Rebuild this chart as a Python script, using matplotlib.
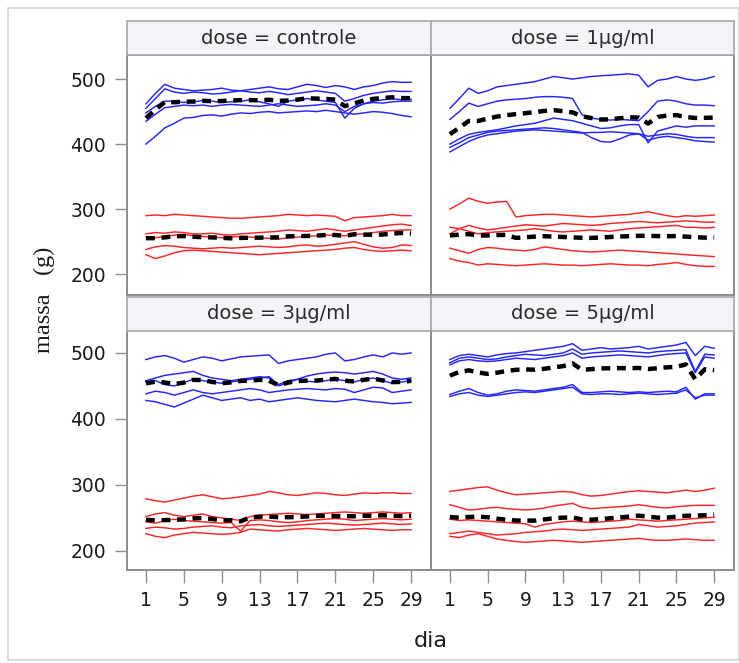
import numpy as np
import matplotlib
matplotlib.use("Agg")
import matplotlib.pyplot as plt
from matplotlib.patches import Rectangle

# === Data: daily body mass (g) per animal, days 1..29 ===
dias = list(range(1, 30))
doses = ["controle", "1µg/ml", "3µg/ml", "5µg/ml"]

# controle
c_b1 = [462, 478, 492, 486, 484, 482, 483, 484, 486, 483, 482, 484, 486, 488, 485, 484, 488, 492, 490, 487, 490, 488, 484, 488, 490, 494, 496, 495, 495]
c_b2 = [455, 470, 485, 480, 478, 480, 479, 477, 478, 480, 482, 480, 479, 481, 479, 476, 478, 480, 482, 480, 478, 466, 470, 475, 478, 480, 482, 481, 481]
c_b3 = [448, 458, 466, 466, 464, 465, 467, 466, 464, 465, 466, 468, 465, 462, 458, 466, 468, 470, 468, 466, 464, 440, 455, 462, 466, 468, 470, 468, 469]
c_b4 = [435, 446, 456, 458, 460, 459, 460, 458, 460, 461, 460, 459, 458, 460, 462, 460, 458, 459, 460, 462, 460, 450, 458, 462, 464, 463, 465, 466, 466]
c_b5 = [400, 412, 425, 432, 440, 441, 444, 445, 443, 446, 448, 447, 449, 450, 448, 449, 450, 451, 450, 452, 450, 448, 446, 448, 450, 449, 447, 444, 442]
c_r1 = [290, 291, 290, 292, 291, 290, 289, 288, 287, 286, 286, 287, 288, 289, 290, 292, 291, 290, 291, 290, 289, 282, 287, 288, 289, 290, 292, 290, 290]
c_r2 = [262, 264, 263, 265, 264, 262, 262, 263, 261, 260, 262, 263, 264, 265, 266, 268, 267, 266, 268, 270, 268, 266, 268, 270, 272, 274, 276, 277, 275]
c_r3 = [257, 256, 258, 260, 261, 259, 258, 257, 256, 257, 258, 257, 256, 255, 254, 256, 257, 258, 259, 260, 260, 259, 261, 262, 264, 266, 267, 268, 268]
c_r4 = [238, 242, 244, 243, 241, 240, 239, 240, 241, 240, 241, 242, 243, 242, 241, 242, 244, 245, 243, 244, 246, 248, 250, 246, 242, 240, 241, 245, 244]
c_r5 = [230, 224, 228, 233, 236, 237, 236, 235, 234, 233, 232, 231, 230, 231, 232, 233, 234, 235, 236, 237, 238, 240, 241, 238, 236, 235, 236, 237, 236]

# 1 ug/ml
d1_b1 = [455, 470, 486, 478, 482, 488, 490, 492, 494, 496, 500, 504, 502, 500, 502, 504, 505, 506, 507, 508, 506, 488, 498, 500, 504, 500, 498, 500, 504]
d1_b2 = [438, 450, 463, 458, 462, 466, 468, 469, 470, 472, 473, 473, 472, 470, 445, 440, 438, 437, 438, 437, 436, 450, 466, 468, 466, 462, 460, 460, 459]
d1_b3 = [400, 408, 415, 418, 420, 422, 425, 428, 430, 432, 436, 440, 438, 436, 432, 428, 424, 425, 428, 430, 430, 402, 420, 424, 428, 426, 428, 428, 428]
d1_b4 = [395, 402, 410, 414, 418, 420, 421, 422, 423, 424, 425, 424, 422, 420, 418, 410, 404, 403, 408, 414, 416, 412, 414, 416, 415, 412, 410, 410, 410]
d1_b5 = [388, 396, 404, 410, 414, 416, 418, 420, 421, 422, 421, 420, 419, 418, 417, 418, 418, 419, 418, 417, 416, 406, 410, 412, 410, 408, 405, 404, 403]
d1_r1 = [300, 308, 317, 312, 309, 311, 312, 288, 290, 291, 292, 292, 291, 290, 289, 288, 289, 290, 291, 292, 294, 296, 293, 290, 288, 290, 289, 290, 291]
d1_r2 = [272, 270, 275, 271, 268, 270, 272, 274, 276, 275, 274, 276, 278, 277, 276, 275, 276, 278, 279, 280, 281, 280, 279, 280, 281, 282, 281, 280, 280]
d1_r3 = [262, 270, 266, 262, 264, 265, 266, 267, 268, 270, 268, 266, 265, 266, 267, 268, 267, 266, 268, 270, 271, 272, 273, 274, 275, 272, 272, 271, 272]
d1_r4 = [240, 236, 232, 238, 241, 240, 238, 237, 236, 238, 242, 240, 238, 236, 235, 234, 235, 236, 237, 236, 235, 234, 233, 232, 231, 230, 229, 228, 227]
d1_r5 = [224, 220, 218, 214, 216, 215, 214, 213, 214, 215, 216, 215, 214, 214, 213, 214, 215, 216, 215, 214, 214, 213, 215, 216, 218, 215, 213, 212, 212]

# 3 ug/ml
d3_b1 = [490, 494, 496, 492, 486, 490, 494, 492, 488, 491, 494, 495, 496, 497, 484, 488, 490, 492, 494, 498, 500, 488, 490, 494, 497, 494, 500, 498, 500]
d3_b2 = [458, 462, 466, 468, 470, 472, 466, 462, 460, 458, 460, 462, 464, 462, 450, 455, 460, 465, 468, 470, 471, 470, 468, 470, 472, 468, 462, 460, 462]
d3_b3 = [456, 458, 452, 450, 455, 460, 458, 456, 454, 456, 458, 460, 462, 464, 452, 458, 460, 457, 456, 458, 460, 458, 456, 460, 462, 458, 454, 456, 458]
d3_b4 = [438, 442, 440, 436, 440, 444, 440, 438, 440, 442, 444, 446, 444, 440, 442, 444, 445, 446, 445, 444, 446, 445, 440, 444, 448, 447, 440, 442, 444]
d3_b5 = [428, 426, 422, 418, 424, 430, 436, 432, 428, 430, 432, 428, 430, 426, 428, 430, 432, 430, 428, 427, 426, 428, 430, 428, 426, 425, 423, 424, 425]
d3_r1 = [279, 276, 274, 277, 280, 283, 285, 282, 279, 280, 282, 284, 286, 290, 288, 285, 284, 286, 288, 287, 285, 284, 286, 288, 287, 288, 288, 287, 287]
d3_r2 = [252, 256, 258, 254, 252, 254, 256, 252, 250, 248, 246, 252, 254, 255, 256, 257, 256, 255, 256, 257, 258, 259, 258, 257, 258, 259, 258, 257, 258]
d3_r3 = [244, 242, 246, 248, 246, 245, 244, 243, 242, 243, 230, 246, 247, 246, 244, 243, 244, 246, 247, 248, 249, 248, 246, 247, 248, 249, 248, 247, 248]
d3_r4 = [234, 236, 235, 233, 234, 236, 237, 238, 236, 235, 238, 239, 240, 238, 237, 238, 239, 240, 241, 242, 241, 240, 239, 240, 241, 242, 241, 240, 241]
d3_r5 = [226, 222, 220, 224, 226, 228, 227, 226, 225, 226, 228, 233, 232, 231, 230, 232, 233, 234, 233, 232, 231, 232, 233, 234, 233, 232, 231, 232, 232]

# 5 ug/ml
d5_b1 = [490, 496, 498, 496, 494, 497, 499, 500, 502, 504, 506, 508, 510, 514, 504, 506, 508, 506, 507, 508, 510, 506, 508, 510, 512, 516, 496, 510, 507]
d5_b2 = [485, 492, 494, 492, 490, 491, 494, 496, 498, 497, 496, 498, 500, 506, 498, 500, 501, 502, 503, 502, 501, 500, 502, 503, 504, 505, 472, 498, 497]
d5_b3 = [482, 488, 490, 488, 487, 488, 490, 492, 491, 490, 492, 494, 496, 500, 492, 494, 495, 496, 497, 496, 495, 494, 496, 498, 499, 500, 470, 494, 492]
d5_b4 = [437, 442, 446, 440, 436, 438, 442, 444, 443, 442, 444, 446, 448, 452, 440, 440, 441, 442, 441, 440, 441, 440, 441, 442, 441, 448, 430, 438, 438]
d5_b5 = [434, 438, 440, 436, 434, 436, 438, 440, 441, 440, 442, 444, 446, 448, 438, 437, 438, 438, 437, 438, 439, 438, 437, 438, 439, 444, 432, 436, 436]
d5_r1 = [290, 292, 294, 296, 297, 292, 288, 285, 286, 287, 288, 289, 290, 289, 285, 283, 284, 286, 288, 290, 291, 290, 289, 288, 290, 292, 290, 292, 295]
d5_r2 = [270, 266, 262, 263, 265, 266, 264, 263, 262, 263, 265, 268, 270, 272, 266, 264, 265, 266, 267, 268, 270, 268, 266, 265, 267, 268, 269, 269, 269]
d5_r3 = [248, 246, 247, 246, 245, 244, 243, 242, 241, 236, 240, 242, 244, 245, 244, 243, 244, 245, 246, 248, 247, 246, 245, 246, 247, 248, 249, 250, 251]
d5_r4 = [226, 228, 230, 228, 226, 224, 225, 226, 228, 229, 230, 232, 233, 232, 231, 232, 233, 234, 235, 236, 240, 238, 236, 237, 238, 240, 242, 243, 244]
d5_r5 = [222, 220, 224, 226, 222, 218, 216, 214, 213, 214, 215, 216, 215, 214, 213, 214, 215, 216, 217, 218, 219, 217, 216, 216, 217, 218, 217, 216, 216]

machos = {
    "controle": [c_b1, c_b2, c_b3, c_b4, c_b5],
    "1µg/ml": [d1_b1, d1_b2, d1_b3, d1_b4, d1_b5],
    "3µg/ml": [d3_b1, d3_b2, d3_b3, d3_b4, d3_b5],
    "5µg/ml": [d5_b1, d5_b2, d5_b3, d5_b4, d5_b5],
}
femeas = {
    "controle": [c_r1, c_r2, c_r3, c_r4, c_r5],
    "1µg/ml": [d1_r1, d1_r2, d1_r3, d1_r4, d1_r5],
    "3µg/ml": [d3_r1, d3_r2, d3_r3, d3_r4, d3_r5],
    "5µg/ml": [d5_r1, d5_r2, d5_r3, d5_r4, d5_r5],
}

# === Layout (pixel boxes -> figure fractions) ===
fig = plt.figure(figsize=(7.39, 6.63), dpi=100)
plt.rcParams["font.family"] = "DejaVu Sans"

W, H = 739.0, 663.0
col_x = [(127, 431), (431, 734)]
row_y = [(55, 295), (330.5, 570)]
strip_y = [(21, 55), (297, 330.5)]
ylims = [(168, 537), (171, 534)]

frame_col = "#8c8c8c"
tick_fs = 13.5

# outer light frame
fig.patches.append(Rectangle((8 / W, 1 - 660 / H), 731 / W, 652 / H,
                             transform=fig.transFigure, fill=False,
                             edgecolor="#d4d4d4", lw=1.2))

for i, dose in enumerate(doses):
    r, c = divmod(i, 2)
    x0, x1 = col_x[c]
    y0, y1 = row_y[r]
    ax = fig.add_axes([x0 / W, 1 - y1 / H, (x1 - x0) / W, (y1 - y0) / H])

    for serie in machos[dose]:
        ax.plot(dias, serie, color="#2424ff", lw=1.05)
    for serie in femeas[dose]:
        ax.plot(dias, serie, color="#ff2424", lw=1.05)
    # group means as thick dashed black lines
    ax.plot(dias, np.mean(machos[dose], axis=0), color="black", lw=3.2, dashes=(2.0, 1.5))
    ax.plot(dias, np.mean(femeas[dose], axis=0), color="black", lw=3.2, dashes=(2.0, 1.5))

    ax.set_xlim(-1.0, 31.1)
    ax.set_ylim(*ylims[r])
    for sp in ax.spines.values():
        sp.set_color(frame_col)
        sp.set_linewidth(1.4)

    ax.set_xticks(range(1, 30, 4))
    ax.set_yticks([200, 300, 400, 500])
    ax.tick_params(direction="out", length=9, width=1, color="#909090",
                   labelsize=tick_fs, labelcolor="#1a1a1a", pad=6)
    if r == 0:
        ax.tick_params(axis="x", bottom=False, labelbottom=False)
    if c == 1:
        ax.tick_params(axis="y", left=False, labelleft=False)

    # header strip
    s0, s1 = strip_y[r]
    sax = fig.add_axes([x0 / W, 1 - s1 / H, (x1 - x0) / W, (s1 - s0) / H])
    sax.set_facecolor("#f3f3f8")
    sax.set_xticks([])
    sax.set_yticks([])
    for sp in sax.spines.values():
        sp.set_color("#a8a8a8")
        sp.set_linewidth(1.2)
    sax.text(0.5, 0.5, "dose = " + dose, ha="center", va="center",
             fontsize=14, color="#2a2a2a", transform=sax.transAxes)

fig.text(431 / W, 1 - 641 / H, "dia", ha="center", va="center", fontsize=16, color="#1a1a1a")
fig.text(44 / W, 1 - 300 / H, "massa   (g)", ha="center", va="center", rotation=90,
         fontsize=17.5, family="Liberation Serif", color="#1a1a1a")

plt.savefig("out.png", dpi=100)
plt.close()
